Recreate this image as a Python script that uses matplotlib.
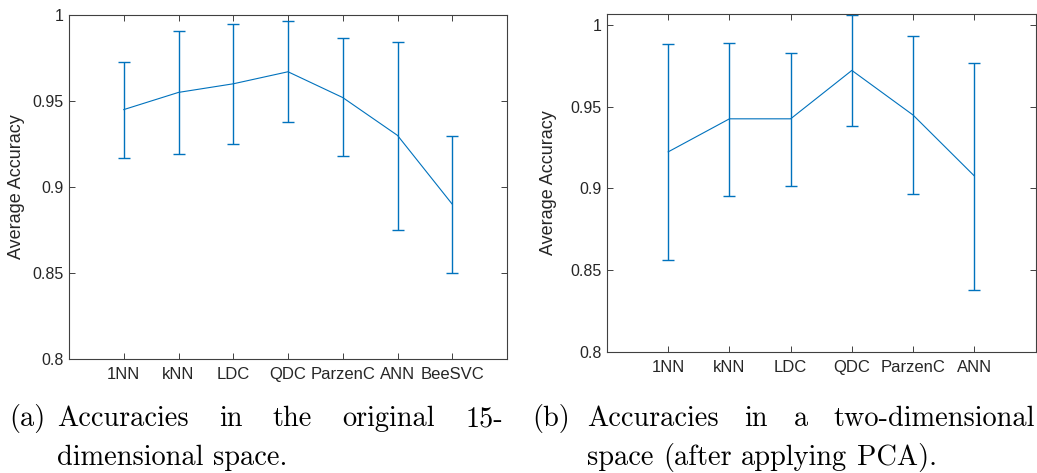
import matplotlib
matplotlib.use("Agg")
import matplotlib.pyplot as plt
from matplotlib.ticker import FormatStrFormatter

# data
names_a = ["1NN", "kNN", "LDC", "QDC", "ParzenC", "ANN", "BeeSVC"]
mean_a = [0.945, 0.955, 0.960, 0.967, 0.952, 0.930, 0.890]
upper_a = [0.9727, 0.9909, 0.9948, 0.9967, 0.9866, 0.9845, 0.9297]
lower_a = [0.917, 0.919, 0.925, 0.938, 0.918, 0.875, 0.850]

names_b = ["1NN", "kNN", "LDC", "QDC", "ParzenC", "ANN"]
mean_b = [0.9224, 0.9426, 0.9426, 0.9722, 0.9449, 0.9077]
upper_b = [0.9884, 0.9892, 0.9830, 1.0063, 0.9935, 0.9769]
lower_b = [0.8565, 0.8957, 0.9018, 0.9381, 0.8965, 0.8381]

label_a, label_b = "(a)", "(b)"
caption_a = [["Accuracies", "in", "the", "original", "15-"], ["dimensional", "space."]]
caption_b = [["Accuracies", "in", "a", "two-dimensional"], ["space", "(after", "applying", "PCA)."]]

W, H = 1037, 473
fig = plt.figure(figsize=(W / 100, H / 100), dpi=100)
blue = "#0072BD"
grey = "#262626"
tickfont = ["Liberation Sans", "DejaVu Sans"]


def draw(ax, names, mean, upper, lower, xmax, ymax):
    x = list(range(1, len(names) + 1))
    err = [[m - l for m, l in zip(mean, lower)], [u - m for m, u in zip(mean, upper)]]
    ax.errorbar(x, mean, yerr=err, color=blue, lw=0.8, elinewidth=1.0,
                capsize=4, capthick=1.0, clip_on=False)
    ax.set_xlim(0, xmax)
    ax.set_ylim(0.8, ymax)
    ax.set_xticks(x)
    ax.set_xticklabels(names, family=tickfont, fontsize=12, color=grey)
    ax.set_yticks([0.8, 0.85, 0.9, 0.95, 1.0])
    ax.yaxis.set_major_formatter(FormatStrFormatter("%g"))
    for lab in ax.get_yticklabels():
        lab.set_family(tickfont)
        lab.set_fontsize(11.5)
        lab.set_color(grey)
    ax.tick_params(direction="in", length=4, width=0.7, top=True, right=True,
                   colors="#404040", labelcolor=grey)
    ax.tick_params(axis="x", pad=6)
    ax.tick_params(axis="y", pad=4)
    for s in ax.spines.values():
        s.set_color("#404040")
        s.set_linewidth(0.8)
    ax.set_ylabel("Average Accuracy", family=tickfont, fontsize=13, color=grey)


ax1 = fig.add_axes([69 / W, 1 - 359 / H, 438 / W, 344 / H])
draw(ax1, names_a, mean_a, upper_a, lower_a, 8, 1.0)
ax1.yaxis.set_label_coords(-0.1, 0.5)

ax2 = fig.add_axes([607 / W, 1 - 352 / H, 428.5 / W, 338 / H])
draw(ax2, names_b, mean_b, upper_b, lower_b, 7, 1.0067)
ax2.yaxis.set_label_coords(-0.117, 0.5)

# captions, justified like the LaTeX subcaptions
renderer = fig.canvas.get_renderer()
capfont = dict(family="cmr10", fontsize=20.4, color="black")


def line(words, x0, x1, yb, justify=True):
    texts = [fig.text(0, yb / H, w, ha="left", va="baseline", **capfont) for w in words]
    widths = [t.get_window_extent(renderer).width for t in texts]
    if justify and len(words) > 1:
        gap = (x1 - x0 - sum(widths)) / (len(words) - 1)
    else:
        gap = 0.333 * capfont["fontsize"] * 100 / 72
    x = x0
    for t, w in zip(texts, widths):
        t.set_x(x / W)
        x += w + gap


fig.text(9 / W, 1 - 426 / H, label_a, ha="left", va="baseline", **capfont)
line(caption_a[0], 57, 503, H - 426)
line(caption_a[1], 57, 0, H - 465, justify=False)
fig.text(532 / W, 1 - 426 / H, label_b, ha="left", va="baseline", **capfont)
line(caption_b[0], 587, 1035, H - 426)
line(caption_b[1], 587, 0, H - 465, justify=False)

fig.savefig("out.png", dpi=100)
